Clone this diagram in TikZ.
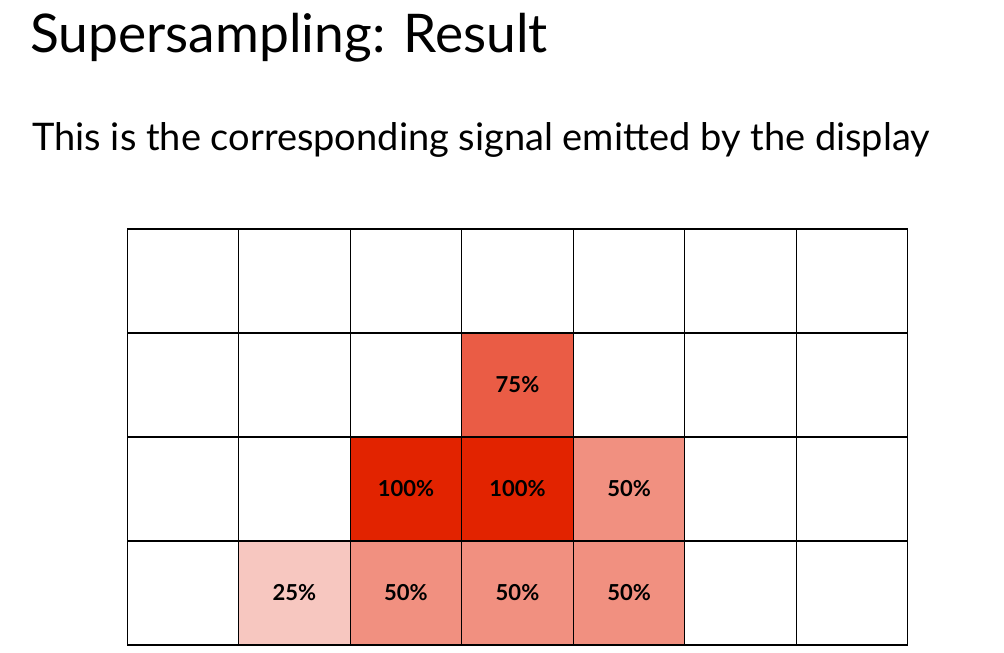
\documentclass[tikz,border=0pt]{standalone}
\usepackage{fontspec}
\setmainfont{Lato}
\definecolor{cHundred}{RGB}{226,35,0}
\definecolor{cSeventyFive}{RGB}{234,92,69}
\definecolor{cFifty}{RGB}{241,144,128}
\definecolor{cTwentyFive}{RGB}{247,199,192}
\begin{document}
\begin{tikzpicture}[x=0.75pt,y=-0.75pt,
  cell/.style={draw=black,line width=0.8pt,minimum width=83.6pt,minimum height=78pt,inner sep=0pt,outer sep=0pt,anchor=center,font=\bfseries\fontsize{16.5}{19}\selectfont},
  titletext/.style={anchor=base west,inner sep=0pt,font=\fontsize{40}{46}\selectfont},
  subtext/.style={anchor=base west,inner sep=0pt,font=\fontsize{28.5}{33}\selectfont}]
\useasboundingbox (0,0) rectangle (1004,653);
\node[titletext] (title) at (30,52) {Supersampling: Result};
\node[subtext] (sub) at (32,150) {This is the corresponding signal emitted by the display};
% grid cells
\foreach \c in {0,...,6}{
  \foreach \r in {0,...,3}{
    \node[cell] (c\c r\r) at ({127+111.57*\c+55.8},{229+104*\r+52}) {};
  }
}
\node[cell,fill=cSeventyFive] (v75) at (c3r1) {75\%};
\node[cell,fill=cHundred] (v100a) at (c2r2) {100\%};
\node[cell,fill=cHundred] (v100b) at (c3r2) {100\%};
\node[cell,fill=cFifty] (v50a) at (c4r2) {50\%};
\node[cell,fill=cTwentyFive] (v25) at (c1r3) {25\%};
\node[cell,fill=cFifty] (v50b) at (c2r3) {50\%};
\node[cell,fill=cFifty] (v50c) at (c3r3) {50\%};
\node[cell,fill=cFifty] (v50d) at (c4r3) {50\%};
\end{tikzpicture}
\end{document}
